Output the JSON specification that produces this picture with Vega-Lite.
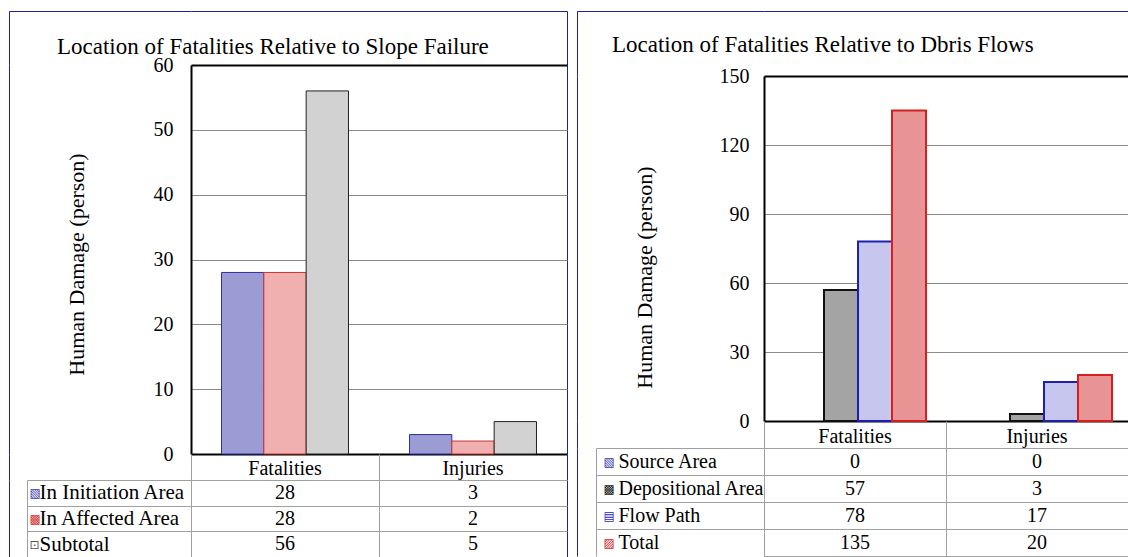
{
  "$schema": "https://vega.github.io/schema/vega-lite/v6.json",
  "padding": {"left": 8, "top": 10, "right": 0, "bottom": 0},
  "autosize": {"type": "pad"},
  "background": "white",
  "config": {
    "view": {"stroke": null},
    "axis": {"labelFont": "Liberation Serif", "titleFont": "Liberation Serif"},
    "text": {"font": "Liberation Serif"},
    "title": {"font": "Liberation Serif"}
  },
  "datasets": {
    "slope": [
      {"category": "Fatalities", "series": "In Initiation Area", "value": 28},
      {"category": "Fatalities", "series": "In Affected Area", "value": 28},
      {"category": "Fatalities", "series": "Subtotal", "value": 56},
      {"category": "Injuries", "series": "In Initiation Area", "value": 3},
      {"category": "Injuries", "series": "In Affected Area", "value": 2},
      {"category": "Injuries", "series": "Subtotal", "value": 5}
    ],
    "debris": [
      {"category": "Fatalities", "series": "Source Area", "value": 0},
      {"category": "Fatalities", "series": "Depositional Area", "value": 57},
      {"category": "Fatalities", "series": "Flow Path", "value": 78},
      {"category": "Fatalities", "series": "Total", "value": 135},
      {"category": "Injuries", "series": "Source Area", "value": 0},
      {"category": "Injuries", "series": "Depositional Area", "value": 3},
      {"category": "Injuries", "series": "Flow Path", "value": 17},
      {"category": "Injuries", "series": "Total", "value": 20}
    ],
    "cats": [{"category": "Fatalities"}, {"category": "Injuries"}]
  },
  "spacing": 568,
  "bounds": "flush",
  "align": "each",
  "resolve": {"scale": {"xOffset": "independent", "fill": "independent", "stroke": "independent"}},
  "hconcat": [
    {
      "columns": 2,
      "spacing": 0,
      "bounds": "flush",
      "align": "each",
      "resolve": {"scale": {"xOffset": "independent", "fill": "independent", "stroke": "independent"}},
      "concat": [
        {"width": 182, "height": 54, "data": {"values": []}, "mark": "rect", "encoding": {},
          "view": {"stroke": "#22229a", "strokeWidth": 1, "strokeDash": [182, 236, 54], "fill": null}},
        {"width": 376, "height": 54, "data": {"values": []}, "mark": "rect", "encoding": {},
          "view": {"stroke": "#22229a", "strokeWidth": 1, "strokeDash": [430, 430], "fill": null}},
        {"width": 182, "height": 389, "data": {"values": []}, "mark": "rect", "encoding": {},
          "view": {"stroke": "#22229a", "strokeWidth": 1, "strokeDash": [0, 753, 389], "fill": null}},
        {
          "width": 376, "height": 389,
          "data": {"name": "slope"},
          "view": {"stroke": "#22229a", "strokeWidth": 1, "strokeDash": [0, 376, 389, 765], "fill": null},
          "title": {"text": "Location of Fatalities Relative to Slope Failure", "anchor": "start", "frame": "group", "dx": -134, "offset": -22, "baseline": "alphabetic", "fontSize": 23, "fontWeight": "normal", "color": "#000"},
          "mark": {"type": "bar", "strokeWidth": 1},
          "encoding": {
            "x": {"field": "category", "type": "nominal",
              "scale": {"domain": ["Fatalities", "Injuries"], "paddingInner": 0.3245, "paddingOuter": 0.16225},
              "axis": {"labels": false, "ticks": false, "title": null, "grid": false, "domainColor": "#000", "domainWidth": 2}},
            "xOffset": {"field": "series", "type": "nominal",
              "scale": {"domain": ["In Initiation Area", "In Affected Area", "Subtotal"], "paddingInner": 0, "paddingOuter": 0}},
            "y": {"field": "value", "type": "quantitative",
              "scale": {"domain": [0, 60], "nice": false},
              "axis": {"values": [0, 10, 20, 30, 40, 50, 60], "title": "Human Damage (person)",
                "titleFontSize": 22, "titleFontWeight": "normal", "titleColor": "#000",
                "titleX": -115, "titleY": 199, "titleAngle": -90, "titleAlign": "center", "titleBaseline": "middle",
                "labelFontSize": 20, "labelColor": "#000", "labelPadding": 18, "labelFlush": false, "labelOverlap": false,
                "ticks": false, "tickSize": 0, "domainColor": "#000", "domainWidth": 2,
                "gridColor": {"condition": {"test": "datum.value === 60", "value": "#000"}, "value": "#8a8a8a"},
                "gridWidth": {"condition": {"test": "datum.value === 60", "value": 2}, "value": 1}}},
            "fill": {"field": "series", "type": "nominal", "legend": null,
              "scale": {"domain": ["In Initiation Area", "In Affected Area", "Subtotal"], "range": ["#9c9cd4", "#f0b0b0", "#d2d2d2"]}},
            "stroke": {"field": "series", "type": "nominal", "legend": null,
              "scale": {"domain": ["In Initiation Area", "In Affected Area", "Subtotal"], "range": ["#3030a0", "#cc3333", "#222222"]}}
          }
        },
        {"width": 182, "height": 26, "data": {"values": []}, "mark": "rect", "encoding": {},
          "view": {"stroke": "#22229a", "strokeWidth": 1, "strokeDash": [0, 390, 26], "fill": null}},
        {
          "width": 376, "height": 26,
          "data": {"name": "cats"},
          "view": {"stroke": "#22229a", "strokeWidth": 1, "strokeDash": [0, 376, 26, 402], "fill": null},
          "mark": {"type": "text", "fontSize": 20, "color": "#000", "dy": 2},
          "encoding": {
            "x": {"field": "category", "type": "nominal",
              "scale": {"domain": ["Fatalities", "Injuries"], "paddingInner": 0, "paddingOuter": 0},
              "axis": {"labels": false, "ticks": false, "domain": false, "title": null, "grid": true, "gridColor": "#a0a0a0", "tickOffset": -94}},
            "text": {"field": "category"}
          }
        },
        {"width": 182, "height": 77, "data": {"values": []}, "mark": "rect", "encoding": {},
          "view": {"stroke": "#22229a", "strokeWidth": 1, "strokeDash": [0, 441, 77], "fill": null}},
        {
          "width": 376, "height": 77,
          "data": {"name": "slope"},
          "view": {"stroke": "#22229a", "strokeWidth": 1, "strokeDash": [0, 376, 77, 453], "fill": null},
          "resolve": {"axis": {"y": "independent"}},
          "layer": [
            {
              "mark": {"type": "text", "fontSize": 20, "color": "#000"},
              "encoding": {
                "x": {"field": "category", "type": "nominal",
                  "scale": {"domain": ["Fatalities", "Injuries"], "paddingInner": 0, "paddingOuter": 0},
                  "axis": {"labels": false, "ticks": false, "domain": false, "title": null, "grid": true, "gridColor": "#a0a0a0", "tickOffset": -94}},
                "y": {"field": "series", "type": "nominal",
                  "scale": {"domain": ["In Initiation Area", "In Affected Area", "Subtotal"], "paddingInner": 0, "paddingOuter": 0},
                  "axis": {"orient": "left", "title": null, "labelAlign": "left", "labelBaseline": "middle", "labelPadding": -12,
                    "labelFontSize": 21, "labelColor": "#000", "ticks": true, "tickSize": 164, "tickColor": "#a0a0a0",
                    "tickOffset": -12.833, "labelOffset": 12.833,
                    "grid": true, "gridColor": "#a0a0a0", "domain": true, "domainColor": "#a0a0a0"}},
                "text": {"field": "value"}
              }
            },
            {
              "mark": {"type": "text", "text": ""},
              "encoding": {
                "y": {"field": "series", "type": "nominal",
                  "axis": {"orient": "left", "offset": 164, "title": null, "ticks": false, "tickSize": 0, "grid": false,
                    "domain": true, "domainColor": "#a0a0a0", "labelAlign": "left", "labelBaseline": "middle", "labelPadding": -2,
                    "labelFont": "DejaVu Sans", "labelFontSize": 12,
                    "labelExpr": "datum.value === 'In Initiation Area' ? '▧' : datum.value === 'In Affected Area' ? '▩' : '⊡'",
                    "labelColor": {"condition": [{"test": "datum.value === 'In Initiation Area'", "value": "#3535a8"}, {"test": "datum.value === 'In Affected Area'", "value": "#d03030"}], "value": "#555555"}}}
              }
            }
          ]
        }
      ]
    },
    {
      "columns": 2,
      "spacing": 0,
      "bounds": "flush",
      "align": "each",
      "resolve": {"scale": {"xOffset": "independent", "fill": "independent", "stroke": "independent"}},
      "concat": [
        {"width": 187, "height": 65, "data": {"values": []}, "mark": "rect", "encoding": {},
          "view": {"stroke": "#22229a", "strokeWidth": 1, "strokeDash": [187, 252, 65], "fill": null}},
        {"width": 364, "height": 65, "data": {"values": []}, "mark": "rect", "encoding": {},
          "view": {"stroke": "#22229a", "strokeWidth": 1, "strokeDash": [364, 494], "fill": null}},
        {"width": 187, "height": 345, "data": {"values": []}, "mark": "rect", "encoding": {},
          "view": {"stroke": "#22229a", "strokeWidth": 1, "strokeDash": [0, 719, 345], "fill": null}},
        {
          "width": 364, "height": 345,
          "data": {"name": "debris"},
          "transform": [{"filter": "datum.value > 0"}],
          "title": {"text": "Location of Fatalities Relative to Dbris Flows", "anchor": "start", "frame": "group", "dx": -152, "offset": -9, "baseline": "alphabetic", "fontSize": 23, "fontWeight": "normal", "color": "#000"},
          "mark": {"type": "bar", "strokeWidth": 2},
          "encoding": {
            "x": {"field": "category", "type": "nominal",
              "scale": {"domain": ["Fatalities", "Injuries"], "paddingInner": 0.2688, "paddingOuter": 0.113, "align": 0.619},
              "axis": {"labels": false, "ticks": false, "title": null, "grid": false, "domainColor": "#000", "domainWidth": 2}},
            "xOffset": {"field": "series", "type": "nominal",
              "scale": {"domain": ["Source Area", "Depositional Area", "Flow Path", "Total"], "paddingInner": 0, "paddingOuter": 0}},
            "y": {"field": "value", "type": "quantitative",
              "scale": {"domain": [0, 150], "nice": false},
              "axis": {"values": [0, 30, 60, 90, 120, 150], "title": "Human Damage (person)",
                "titleFontSize": 22, "titleFontWeight": "normal", "titleColor": "#000",
                "titleX": -120, "titleY": 201, "titleAngle": -90, "titleAlign": "center", "titleBaseline": "middle",
                "labelFontSize": 20, "labelColor": "#000", "labelPadding": 15, "labelFlush": false, "labelOverlap": false,
                "ticks": false, "tickSize": 0, "domainColor": "#000", "domainWidth": 2,
                "gridColor": {"condition": {"test": "datum.value === 150", "value": "#000"}, "value": "#8a8a8a"},
                "gridWidth": {"condition": {"test": "datum.value === 150", "value": 2}, "value": 1}}},
            "fill": {"field": "series", "type": "nominal", "legend": null,
              "scale": {"domain": ["Source Area", "Depositional Area", "Flow Path", "Total"], "range": ["#9c9cd4", "#a4a4a4", "#c6c6ee", "#e99494"]}},
            "stroke": {"field": "series", "type": "nominal", "legend": null,
              "scale": {"domain": ["Source Area", "Depositional Area", "Flow Path", "Total"], "range": ["#3030a0", "#111111", "#1f1fb0", "#d42020"]}}
          }
        },
        {"width": 187, "height": 27, "data": {"values": []}, "mark": "rect", "encoding": {},
          "view": {"stroke": "#22229a", "strokeWidth": 1, "strokeDash": [0, 401, 27], "fill": null}},
        {
          "width": 364, "height": 27,
          "data": {"name": "cats"},
          "mark": {"type": "text", "fontSize": 20, "color": "#000", "dy": 2},
          "encoding": {
            "x": {"field": "category", "type": "nominal",
              "scale": {"domain": ["Fatalities", "Injuries"], "paddingInner": 0, "paddingOuter": 0},
              "axis": {"labels": false, "ticks": false, "domain": false, "title": null, "grid": true, "gridColor": "#a0a0a0", "tickOffset": -91}},
            "text": {"field": "category"}
          }
        },
        {"width": 187, "height": 108, "data": {"values": []}, "mark": "rect", "encoding": {},
          "view": {"stroke": "#22229a", "strokeWidth": 1, "strokeDash": [0, 482, 108], "fill": null}},
        {
          "width": 364, "height": 108,
          "data": {"name": "debris"},
          "view": {"stroke": "#a0a0a0", "strokeWidth": 1, "strokeDash": [0, 472, 364, 108], "fill": null},
          "resolve": {"axis": {"y": "independent"}},
          "layer": [
            {
              "mark": {"type": "text", "fontSize": 20, "color": "#000"},
              "encoding": {
                "x": {"field": "category", "type": "nominal",
                  "scale": {"domain": ["Fatalities", "Injuries"], "paddingInner": 0, "paddingOuter": 0},
                  "axis": {"labels": false, "ticks": false, "domain": false, "title": null, "grid": true, "gridColor": "#a0a0a0", "tickOffset": -91}},
                "y": {"field": "series", "type": "nominal",
                  "scale": {"domain": ["Source Area", "Depositional Area", "Flow Path", "Total"], "paddingInner": 0, "paddingOuter": 0},
                  "axis": {"orient": "left", "title": null, "labelAlign": "left", "labelBaseline": "middle", "labelPadding": -22,
                    "labelFontSize": 20, "labelColor": "#000", "ticks": true, "tickSize": 168, "tickColor": "#a0a0a0",
                    "tickOffset": -13.5, "labelOffset": 13.5,
                    "grid": true, "gridColor": "#a0a0a0", "domain": true, "domainColor": "#a0a0a0"}},
                "text": {"field": "value"}
              }
            },
            {
              "mark": {"type": "text", "text": ""},
              "encoding": {
                "y": {"field": "series", "type": "nominal",
                  "axis": {"orient": "left", "offset": 168, "title": null, "ticks": false, "tickSize": 0, "grid": false,
                    "domain": true, "domainColor": "#a0a0a0", "labelAlign": "left", "labelBaseline": "middle", "labelPadding": -7,
                    "labelFont": "DejaVu Sans", "labelFontSize": 12,
                    "labelExpr": "datum.value === 'Source Area' ? '▧' : datum.value === 'Depositional Area' ? '▩' : datum.value === 'Flow Path' ? '▤' : '▨'",
                    "labelColor": {"condition": [{"test": "datum.value === 'Source Area'", "value": "#3939b0"}, {"test": "datum.value === 'Flow Path'", "value": "#1f1fc0"}, {"test": "datum.value === 'Total'", "value": "#d42020"}], "value": "#111111"}}}
              }
            }
          ]
        }
      ]
    }
  ]
}
